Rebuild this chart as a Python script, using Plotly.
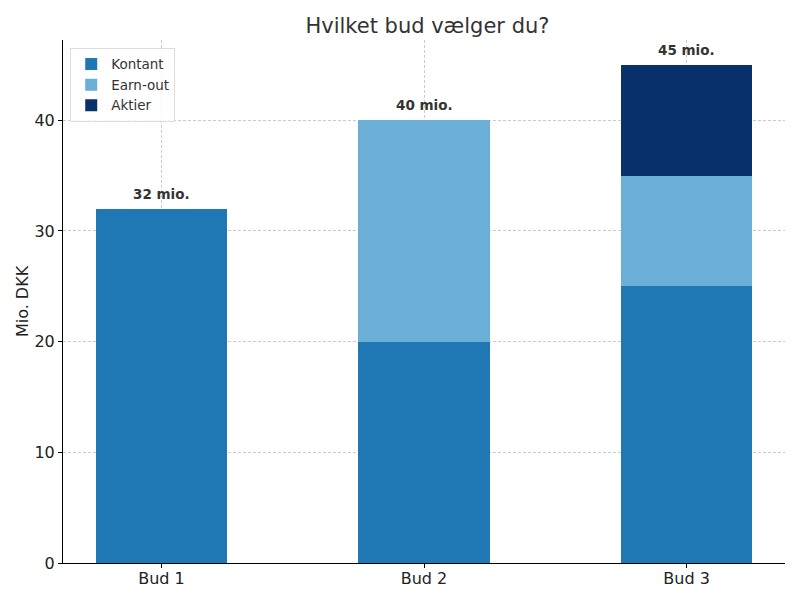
import plotly.graph_objects as go

# Bud data (mio. DKK)
bids = ["Bud 1", "Bud 2", "Bud 3"]
kontant = [32, 20, 25]
earn_out = [0, 20, 10]
aktier = [0, 0, 10]
totals = [32, 40, 45]
total_labels = ["32 mio.", "40 mio.", "45 mio."]

fig = go.Figure([
    go.Bar(name="Kontant", x=bids, y=kontant, marker_color="#1f77b4", width=0.5),
    go.Bar(name="Earn-out", x=bids, y=earn_out, marker_color="#6baed6", width=0.5),
    go.Bar(name="Aktier", x=bids, y=aktier, marker_color="#08306b", width=0.5),
])
fig.update_traces(marker_line_width=0)

for b, t, lab in zip(bids, totals, total_labels):
    fig.add_annotation(x=b, y=t, text="<b>" + lab + "</b>", showarrow=False,
                       yanchor="bottom", yshift=5,
                       font=dict(size=13.5, color="#333333"))

# page has an 8px body margin, so figure is drawn slightly smaller
fig.update_layout(
    barmode="stack",
    width=784, height=584,
    paper_bgcolor="white", plot_bgcolor="white",
    margin=dict(l=55, r=7, t=32, b=29),
    font=dict(family="DejaVu Sans", color="#333333"),
    title=dict(text="Hvilket bud vælger du?", x=0.535, xanchor="center",
               y=0.97, yanchor="middle", font=dict(size=21, color="#333333")),
    legend=dict(x=0.01, y=0.985, xanchor="left", yanchor="top",
                bgcolor="rgba(255,255,255,0.8)", bordercolor="#dddddd", borderwidth=1,
                font=dict(size=13.5), traceorder="normal"),
    showlegend=True,
)

grid = dict(showgrid=True, gridcolor="#cccccc", griddash="3px,2px", gridwidth=0.6)
fig.update_xaxes(range=[-0.375, 2.375], showline=True, linecolor="black", linewidth=1,
                 ticks="outside", ticklen=4, tickcolor="black", automargin=False,
                 ticklabelstandoff=-3,
                 layer="above traces", tickfont=dict(size=16, color="#222222"), **grid)
fig.update_yaxes(range=[0, 47.25], showline=True, linecolor="black", linewidth=1,
                 ticks="outside", ticklen=4, tickcolor="black", tickvals=[0, 10, 20, 30, 40],
                 zeroline=False, layer="above traces", automargin=False,
                 tickfont=dict(size=16, color="#222222"),
                 title=dict(text="Mio. DKK", font=dict(size=16, color="#222222"), standoff=1),
                 **grid)

fig.write_html("out.html")
